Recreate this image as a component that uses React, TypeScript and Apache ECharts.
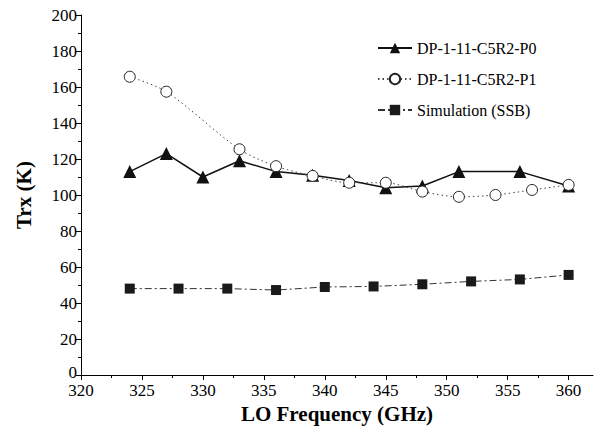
import React, { useEffect, useRef } from "react";
import * as echarts from "echarts";

const p0X = [324, 327, 330, 333, 336, 339, 342, 345, 348, 351, 356, 360];
const p0Y = [113, 123, 110, 119, 113, 111, 108, 104, 105, 113, 113, 105];
const p1X = [324, 327, 333, 336, 339, 342, 345, 348, 351, 354, 357, 360];
const p1Y = [165.7, 157.4, 125.4, 116, 110.6, 106.8, 106.8, 101.9, 99, 100, 102.8, 105.6];
const simX = [324, 328, 332, 336, 340, 344, 348, 352, 356, 360];
const simY = [48, 48, 48, 47.2, 48.9, 49.2, 50.4, 52, 53.1, 55.6];
const xMajorTicks = [320, 325, 330, 335, 340, 345, 350, 355, 360];
const xMinorTicks = [322.5, 327.5, 332.5, 337.5, 342.5, 347.5, 352.5, 357.5];

const FONT = "'Liberation Serif', 'Times New Roman', serif";

export default function App() {
  const ref = useRef<HTMLDivElement>(null);
  useEffect(() => {
    if (!ref.current) return;
    const chart = echarts.init(ref.current, null, { renderer: "svg" });
    const zip = (xs: number[], ys: number[]) => xs.map((x, i) => [x, ys[i]]);
    chart.setOption({
      animation: false,
      backgroundColor: "#fff",
      textStyle: { fontFamily: FONT, color: "#000" },
      grid: { left: 81, top: 15, right: 7, bottom: 59 },
      legend: {
        orient: "vertical",
        left: 372,
        top: 35,
        itemWidth: 34,
        itemHeight: 13,
        itemGap: 15,
        textStyle: { fontFamily: FONT, fontSize: 16, color: "#000", padding: [0, 0, 0, 0] },
        data: ["DP-1-11-C5R2-P0", "DP-1-11-C5R2-P1", "Simulation (SSB)"],
      },
      xAxis: [
        {
          type: "value",
          min: 320,
          max: 362,
          interval: 5,
          name: "LO Frequency (GHz)",
          nameLocation: "middle",
          nameGap: 27,
          nameTextStyle: { fontFamily: FONT, fontSize: 21, fontWeight: "bold", color: "#000" },
          axisLine: { show: true, onZero: false, lineStyle: { color: "#000", width: 1 } },
          axisTick: { show: true, inside: false, length: 5, customValues: xMajorTicks, lineStyle: { color: "#000" } },
          axisLabel: { customValues: xMajorTicks, fontFamily: FONT, fontSize: 17, lineHeight: 15, color: "#000", margin: 8 },
          splitLine: { show: false },
        },
        {
          type: "value",
          min: 320,
          max: 362,
          position: "bottom",
          axisLine: { show: false, onZero: false },
          axisTick: { show: true, inside: false, length: 3, customValues: xMinorTicks, lineStyle: { color: "#000" } },
          axisLabel: { show: false },
          splitLine: { show: false },
        },
      ],
      yAxis: {
        type: "value",
        min: 0,
        max: 200,
        interval: 20,
        name: "Trx (K)",
        nameLocation: "middle",
        nameGap: 47,
        nameTextStyle: { fontFamily: FONT, fontSize: 21, fontWeight: "bold", color: "#000" },
        axisLine: { show: true, lineStyle: { color: "#000", width: 1 } },
        axisTick: { show: true, inside: false, length: 5, lineStyle: { color: "#000" } },
        minorTick: { show: true, splitNumber: 2, length: 3, lineStyle: { color: "#000" } },
        axisLabel: {
          fontFamily: FONT,
          fontSize: 17,
          lineHeight: 15,
          color: "#000",
          margin: 4,
          formatter: (v: number) => (v === 0 ? "{z|0}" : String(v)),
          rich: { z: { fontFamily: FONT, fontSize: 17, lineHeight: 15, color: "#000", padding: [0, 0, 6, 0] } },
        },
        splitLine: { show: false },
        minorSplitLine: { show: false },
      },
      series: [
        {
          name: "Simulation (SSB)",
          type: "line",
          data: zip(simX, simY),
          symbol: "rect",
          symbolSize: 10,
          itemStyle: { color: "#1a1a1a" },
          lineStyle: { color: "#333", width: 1, type: [7, 3, 2, 3] },
        },
        {
          name: "DP-1-11-C5R2-P0",
          type: "line",
          data: zip(p0X, p0Y),
          symbol: "triangle",
          symbolSize: 13,
          itemStyle: { color: "#111" },
          lineStyle: { color: "#111", width: 1.5, type: "solid" },
        },
        {
          name: "DP-1-11-C5R2-P1",
          type: "line",
          data: zip(p1X, p1Y),
          smooth: 0.3,
          symbol: "circle",
          symbolSize: 11,
          itemStyle: { color: "#fff", borderColor: "#222", borderWidth: 1 },
          lineStyle: { color: "#444", width: 1, type: [1.5, 3] },
        },
      ],
    });
    return () => chart.dispose();
  }, []);
  return <div ref={ref} style={{ width: 600, height: 434, position: "absolute", left: 0, top: 0 }} />;
}
